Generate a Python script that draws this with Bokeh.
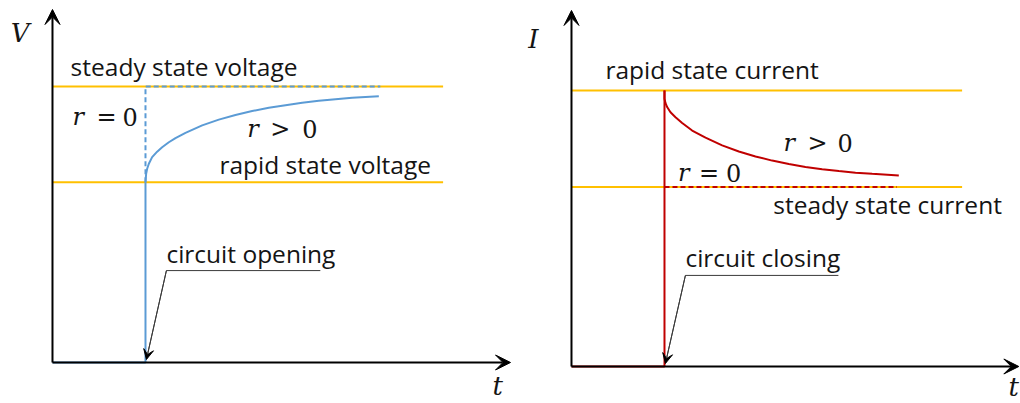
from bokeh.plotting import figure
from bokeh.models import Arrow, VeeHead, Label, Range1d
from bokeh.layouts import row
from bokeh.embed import file_html
from bokeh.resources import INLINE

# ---------------- data ----------------
t_switch = 2.0          # switching instant
t_line_end = 8.4        # end of the two reference levels
t_axis_end_v = 9.85
t_axis_end_i = 9.62
v_axis_top = 1.279
i_axis_top = 1.29

V_rapid = 0.653
V_steady = 1.0
I_rapid = 1.0
I_steady = 0.650

# r > 0 voltage rise after opening
v_curve_t = [2.000, 2.014, 2.036, 2.072, 2.143, 2.251, 2.358, 2.502, 2.645, 2.860, 3.219,
             3.577, 3.935, 4.294, 4.652, 5.011, 5.369, 5.728, 6.086, 6.444, 7.018]
v_curve_v = [0.653, 0.684, 0.702, 0.720, 0.744, 0.764, 0.780, 0.798, 0.813, 0.832, 0.859,
             0.880, 0.897, 0.911, 0.923, 0.932, 0.941, 0.948, 0.954, 0.959, 0.965]
v_dash_end = 7.05

# r > 0 current decay after closing
i_curve_t = [2.000, 2.000, 2.022, 2.057, 2.129, 2.237, 2.380, 2.595, 2.882, 3.240, 3.599,
             3.957, 4.315, 4.674, 5.032, 5.391, 5.749, 6.108, 6.466, 7.039]
i_curve_i = [1.000, 0.970, 0.954, 0.940, 0.921, 0.903, 0.882, 0.855, 0.829, 0.801, 0.779,
             0.761, 0.746, 0.734, 0.723, 0.715, 0.708, 0.702, 0.698, 0.692]
i_dash_end = 7.0

# text labels
left_texts = ["steady state voltage", "rapid state voltage", "circuit opening"]
left_text_t = [0.39, 3.59, 2.45]
left_text_v = [1.047, 0.693, 0.370]
right_texts = ["rapid state current", "steady state current", "circuit closing"]
right_text_t = [0.73, 4.34, 2.45]
right_text_i = [1.051, 0.563, 0.368]

# leader lines (label underline end, elbow, arrow tip)
left_leader = dict(t=[5.76, 2.45], y=[0.333, 0.333], tip=(2.02, 0.011))
right_leader = dict(t=[5.74, 2.45], y=[0.330, 0.330], tip=(2.02, 0.011))

ORANGE = "#FFC000"
BLUE = "#5B9BD5"
RED = "#C00000"
TXT = "#141414"
LABEL_FONT = "Open Sans"
MATH_FONT = "DejaVu Serif"
FS = "24.5px"
MFS = "24px"
LIFT = 7


def make_fig(width, xr, yr):
    p = figure(width=width, height=403, x_range=Range1d(*xr), y_range=Range1d(*yr),
               output_backend="svg", toolbar_location=None,
               x_axis_location=None, y_axis_location=None,
               min_border=0, outline_line_color=None,
               background_fill_color="white", border_fill_color="white")
    p.grid.visible = False
    return p


def axes(p, t_end, y_top):
    p.add_layout(Arrow(end=VeeHead(size=15, fill_color="black", line_color="black", line_width=1),
                       x_start=0, y_start=0, x_end=t_end, y_end=0,
                       line_color="black", line_width=2))
    p.add_layout(Arrow(end=VeeHead(size=15, fill_color="black", line_color="black", line_width=1),
                       x_start=0, y_start=0, x_end=0, y_end=y_top,
                       line_color="black", line_width=2))


def text(p, x, y, s, font=LABEL_FONT, size=FS, style="normal", dx=0):
    p.add_layout(Label(x=x, y=y, text=s, text_font=font, text_font_size=size,
                       text_font_style=style, text_color=TXT, text_baseline="alphabetic",
                       x_offset=dx, y_offset=LIFT))


def math(p, x, y, op, gaps):
    text(p, x, y, "r", font=MATH_FONT, size=MFS, style="italic")
    text(p, x, y, op, font=MATH_FONT, size=MFS, dx=gaps[0])
    text(p, x, y, "0", font=MATH_FONT, size=MFS, dx=gaps[1])


def leader(p, ld):
    p.line(ld["t"] + [ld["tip"][0]], ld["y"] + [ld["tip"][1]], line_color="#3a3a3a", line_width=1)
    p.add_layout(Arrow(end=VeeHead(size=10, fill_color="black", line_color="black", line_width=1),
                       x_start=ld["t"][-1], y_start=ld["y"][-1], x_end=ld["tip"][0], y_end=ld["tip"][1],
                       line_color="#3a3a3a", line_width=1))


# ---------------- left panel: voltage ----------------
pl = make_fig(515, (-1.118, 9.957), (-0.1486, 1.3116))
axes(pl, t_axis_end_v, v_axis_top)
pl.line([0, t_line_end], [V_steady, V_steady], line_color=ORANGE, line_width=2)
pl.line([0, t_line_end], [V_rapid, V_rapid], line_color=ORANGE, line_width=2)
pl.line([t_switch, t_switch, v_dash_end], [V_rapid, V_steady, V_steady],
        line_color=BLUE, line_width=2, line_dash="5 3")
pl.line([0, t_switch, t_switch], [0, 0, V_rapid], line_color=BLUE, line_width=2)
pl.line(v_curve_t, v_curve_v, line_color=BLUE, line_width=2)
for s, x, y in zip(left_texts, left_text_t, left_text_v):
    text(pl, x, y, s)
math(pl, 0.43, 0.865, "=", (24, 50))
math(pl, 4.19, 0.819, ">", (23, 55))
text(pl, -0.90, 1.168, "V", font=MATH_FONT, size="26px", style="italic")
text(pl, 9.46, -0.112, "t", font=MATH_FONT, size="26px", style="italic")
leader(pl, left_leader)

# ---------------- right panel: current ----------------
pr = make_fig(505, (-1.204, 9.656), (-0.1341, 1.3261))
axes(pr, t_axis_end_i, i_axis_top)
pr.line([0, t_line_end], [I_rapid, I_rapid], line_color=ORANGE, line_width=2)
pr.line([0, t_line_end], [I_steady, I_steady], line_color=ORANGE, line_width=2)
pr.line([t_switch, i_dash_end], [I_steady, I_steady], line_color=RED, line_width=2, line_dash="5 3")
pr.line([0, t_switch, t_switch], [0, 0, I_rapid], line_color=RED, line_width=2)
pr.line(i_curve_t, i_curve_i, line_color=RED, line_width=2)
for s, x, y in zip(right_texts, right_text_t, right_text_i):
    text(pr, x, y, s)
math(pr, 2.29, 0.674, "=", (21, 48))
math(pr, 4.56, 0.785, ">", (24, 54))
text(pr, -0.93, 1.16, "I", font=MATH_FONT, size="26px", style="italic")
text(pr, 9.4, -0.098, "t", font=MATH_FONT, size="26px", style="italic")
leader(pr, right_leader)

layout = row(pl, pr, spacing=0)
open("out.html", "w").write(file_html(layout, INLINE))
